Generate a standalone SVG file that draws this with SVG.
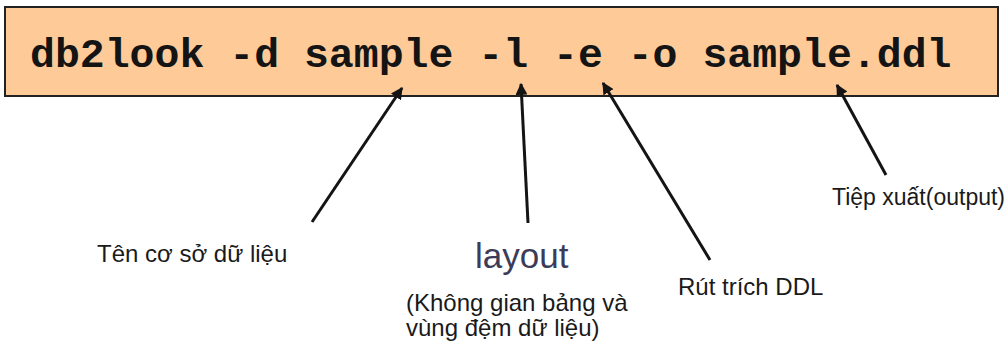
<svg xmlns="http://www.w3.org/2000/svg" width="1008" height="344" viewBox="0 0 1008 344">
  <style>
    .lbl { font-family: "Liberation Sans", Arial, sans-serif; font-size: 24px; fill: #1a1a1a; }
    .cmd { font-family: "Liberation Mono", "Courier New", monospace; font-weight: bold; font-size: 41.5px; fill: #141414; }
    .conn { stroke: #141414; stroke-width: 3; fill: none; marker-end: url(#ah); }
  </style>
  <defs>
    <marker id="ah" viewBox="0 0 10 10" refX="9" refY="5" markerWidth="4" markerHeight="4" orient="auto" markerUnits="strokeWidth">
      <path d="M0,0 L10,5 L0,10 z" fill="#141414"/>
    </marker>
  </defs>
  <rect width="1008" height="344" fill="#ffffff"/>
  <g id="command">
    <rect x="5" y="7" width="993" height="89" fill="#FDCA98" stroke="#222222" stroke-width="2"/>
    <text class="cmd" x="30" y="67">db2look -d sample -l -e -o sample.ddl</text>
  </g>
  <g id="connectors">
    <line class="conn" x1="312" y1="222" x2="402" y2="88"/>
    <line class="conn" x1="528" y1="223" x2="521" y2="84"/>
    <line class="conn" x1="710" y1="260" x2="603" y2="83"/>
    <line class="conn" x1="886" y1="175" x2="837" y2="85"/>
  </g>
  <g id="label-db">
    <text class="lbl" x="97" y="262">Tên cơ sở dữ liệu</text>
  </g>
  <g id="label-layout">
    <text x="475" y="268" style="font-family: 'Liberation Sans', Arial, sans-serif; font-size: 35px; fill: #3c3c58;">layout</text>
    <text class="lbl" x="406" y="311">(Không gian bảng và</text>
    <text class="lbl" x="406" y="336">vùng đệm dữ liệu)</text>
  </g>
  <g id="label-ddl">
    <text class="lbl" x="678" y="295">Rút trích DDL</text>
  </g>
  <g id="label-output">
    <text class="lbl" x="832" y="205" style="font-size: 23px;">Tiệp xuất(output)</text>
  </g>
</svg>
